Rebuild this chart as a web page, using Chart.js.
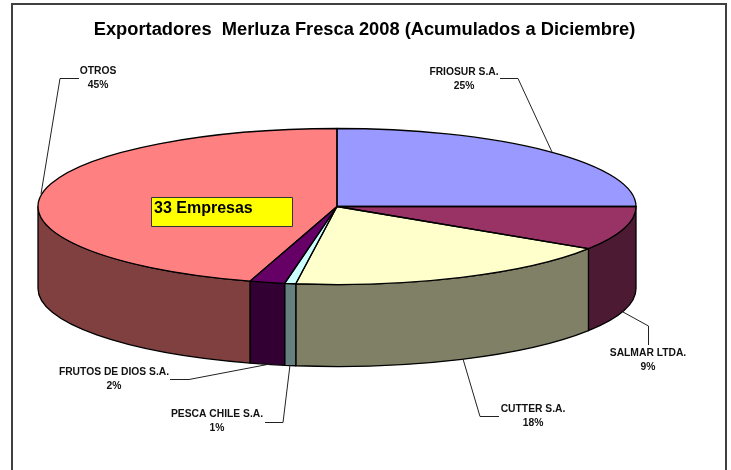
<!DOCTYPE html>
<html>
<head>
<meta charset="utf-8">
<title>Exportadores Merluza Fresca 2008</title>
<script src="https://cdn.jsdelivr.net/npm/chart.js@4"></script>
<style>
  body { margin: 0; background: #fff; }
  canvas { display: block; }
</style>
</head>
<body>
<canvas id="pieChart" width="731" height="470"></canvas>
<script>
const chartTitle = 'Exportadores  Merluza Fresca 2008 (Acumulados a Diciembre)';
const noteText = '33 Empresas';
const empresas = ['FRIOSUR S.A.', 'SALMAR LTDA.', 'CUTTER S.A.', 'PESCA CHILE S.A.', 'FRUTOS DE DIOS S.A.', 'OTROS'];
const participacion = [25.0, 9.1, 18.1, 0.6, 1.9, 45.3];
const sliceColors = ['#9999ff', '#993366', '#ffffcc', '#ccffff', '#660066', '#ff8080'];

// label centre, the two text baselines are centred on y, and the leader line
const labelBoxes = [
    { x: 464, y: 72, line: [[500, 78.5], [518, 78.5], [552, 152]] },
    { x: 648, y: 353, line: [[648.5, 345], [648.5, 326], [623, 312]] },
    { x: 533, y: 409, line: [[499, 416.5], [480, 416.5], [463, 359]] },
    { x: 217, y: 414, line: [[265, 422.5], [283, 422.5], [290, 365]] },
    { x: 114, y: 372, line: [[170, 379.5], [189, 379.5], [270, 364]] },
    { x: 98, y: 71, line: [[79, 78.5], [60, 78.5], [41, 194]] }
];

const squash = 78 / 299;
const depth = 82;

function darken(hex) {
    const n = parseInt(hex.slice(1), 16);
    const half = v => Math.round(v / 2);
    return `rgb(${half(n >> 16)}, ${half((n >> 8) & 255)}, ${half(n & 255)})`;
}

const pie3d = {
    id: 'pie3d',
    beforeDraw(chart) {
        const ctx = chart.ctx;
        ctx.save();
        ctx.strokeStyle = '#404040';
        ctx.lineWidth = 2;
        ctx.beginPath();
        ctx.moveTo(12, 470);
        ctx.lineTo(12, 4);
        ctx.lineTo(726, 4);
        ctx.lineTo(726, 470);
        ctx.stroke();
        ctx.fillStyle = '#000';
        ctx.font = 'bold 18.3px "Liberation Sans"';
        ctx.textAlign = 'center';
        ctx.textBaseline = 'middle';
        ctx.fillText(chartTitle, 364.5, 30);
        ctx.restore();
    },
    beforeDatasetsDraw(chart) {
        const ctx = chart.ctx;
        const arcs = chart.getDatasetMeta(0).data;
        const { x: cx, y: cy, outerRadius: rx } = arcs[0];
        const ry = rx * squash;

        // walls of the slices facing the viewer
        ctx.save();
        ctx.strokeStyle = '#000';
        ctx.lineWidth = 1.3;
        ctx.lineJoin = 'round';
        arcs.forEach((arc, i) => {
            const a0 = Math.max(arc.startAngle, 0);
            const a1 = Math.min(arc.endAngle, Math.PI);
            if (a1 <= a0) return;
            ctx.beginPath();
            ctx.ellipse(cx, cy, rx, ry, 0, a0, a1);
            ctx.ellipse(cx, cy + depth, rx, ry, 0, a1, a0, true);
            ctx.closePath();
            ctx.fillStyle = darken(sliceColors[i]);
            ctx.fill();
            ctx.stroke();
        });
        ctx.restore();

        // the library's own arcs get flattened into the top of the pie
        ctx.save();
        ctx.translate(cx, cy);
        ctx.scale(1, squash);
        ctx.translate(-cx, -cy);
    },
    afterDatasetsDraw(chart) {
        const ctx = chart.ctx;
        ctx.restore();

        const arcs = chart.getDatasetMeta(0).data;
        const { x: cx, y: cy, outerRadius: rx } = arcs[0];
        const ry = rx * squash;

        ctx.save();
        ctx.strokeStyle = '#000';
        ctx.lineWidth = 1.3;
        ctx.lineJoin = 'round';
        arcs.forEach(arc => {
            ctx.beginPath();
            ctx.moveTo(cx, cy);
            ctx.ellipse(cx, cy, rx, ry, 0, arc.startAngle, arc.endAngle);
            ctx.closePath();
            ctx.stroke();
        });

        // leader lines and labels
        ctx.lineWidth = 1;
        ctx.strokeStyle = '#222';
        labelBoxes.forEach(box => {
            ctx.beginPath();
            box.line.forEach(([x, y], j) => j ? ctx.lineTo(x, y) : ctx.moveTo(x, y));
            ctx.stroke();
        });
        const total = participacion.reduce((a, b) => a + b, 0);
        ctx.fillStyle = '#111';
        ctx.font = 'bold 10.3px "Liberation Sans"';
        ctx.textAlign = 'center';
        ctx.textBaseline = 'middle';
        empresas.forEach((name, i) => {
            const box = labelBoxes[i];
            ctx.fillText(name, box.x, box.y);
            ctx.fillText(Math.round(participacion[i] / total * 100) + '%', box.x, box.y + 14);
        });

        // note box
        ctx.fillStyle = '#ffff00';
        ctx.strokeStyle = '#333';
        ctx.lineWidth = 1;
        ctx.fillRect(151.5, 197.5, 141, 29);
        ctx.strokeRect(151.5, 197.5, 141, 29);
        ctx.fillStyle = '#000';
        ctx.font = 'bold 16px "Liberation Sans"';
        ctx.textAlign = 'left';
        ctx.fillText(noteText, 154, 209);
        ctx.restore();
    }
};

new Chart(document.getElementById('pieChart').getContext('2d'), {
    type: 'pie',
    data: {
        labels: empresas,
        datasets: [{
            data: participacion,
            backgroundColor: sliceColors,
            borderWidth: 0,
            clip: false
        }]
    },
    options: {
        responsive: false,
        animation: false,
        radius: 299,
        layout: { padding: { right: 57, bottom: 57 } },
        plugins: {
            legend: { display: false },
            tooltip: { enabled: false }
        }
    },
    plugins: [pie3d]
});
</script>
</body>
</html>
